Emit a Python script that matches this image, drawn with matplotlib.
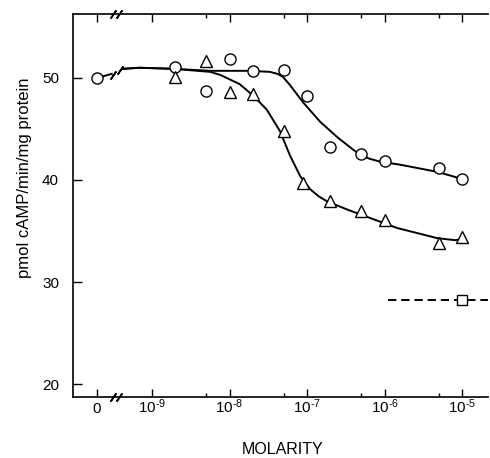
import numpy as np
import matplotlib
matplotlib.use("Agg")
from matplotlib import pyplot as plt
from matplotlib import font_manager

# data (x in molarity, plotted on log10 scale by hand)
ZERO_POS = -9.71          # where the "0 M" control sits, left of the axis break
circle_zero = 50.0
circle_conc = [2e-9, 5e-9, 1e-8, 2e-8, 5e-8, 1e-7, 2e-7, 5e-7, 1e-6, 5e-6, 1e-5]
circle_vals = [51.1, 48.7, 51.9, 50.7, 50.8, 48.2, 43.2, 42.5, 41.9, 41.2, 40.1]
triangle_conc = [2e-9, 5e-9, 1e-8, 2e-8, 5e-8, 9e-8, 2e-7, 5e-7, 1e-6, 5e-6, 1e-5]
triangle_vals = [50.1, 51.7, 48.6, 48.4, 44.8, 39.7, 37.9, 37.0, 36.1, 33.8, 34.4]
square_conc = [1e-5]
square_vals = [28.2]
dash_start = 1.1e-6

# hand drawn curves (log10 molarity, value)
circle_curve_x = [-9.37, -9.16, -8.73, -8.25, -7.74, -7.48, -7.38, -7.31, -7.22, -7.05,
                  -6.83, -6.61, -6.41, -6.32, -6.20, -6.06, -5.80, -5.32, -5.0]
circle_curve_y = [50.9, 51.0, 50.9, 50.7, 50.7, 50.6, 50.4, 50.1, 49.3, 47.6,
                  45.7, 44.2, 43.0, 42.5, 42.1, 41.8, 41.5, 40.8, 40.1]
triangle_curve_x = [-9.37, -9.16, -8.73, -8.25, -8.12, -7.87, -7.70, -7.52, -7.35,
                    -7.22, -7.09, -6.96, -6.85, -6.74, -6.48, -6.23, -5.84, -5.32,
                    -5.09, -5.0]
triangle_curve_y = [50.9, 51.0, 50.9, 50.6, 50.3, 49.4, 48.3, 46.9, 44.8,
                    42.4, 40.4, 39.1, 38.4, 37.9, 37.1, 36.4, 35.3, 34.3,
                    34.1, 34.2]
stub_x = [ZERO_POS, -9.52]
stub_y = [50.0, 50.4]

xticks_pos = [ZERO_POS, -9, -8, -7, -6, -5]
xtick_labels = ["0"] + [r"10$^{\text{-%d}}$" % n for n in (9, 8, 7, 6, 5)]
yticks = [20, 30, 40, 50]
XMIN, XMAX = -10.02, -4.665
YMIN, YMAX = 18.73, 56.27

names = {f.name for f in font_manager.fontManager.ttflist}
FONT = "Liberation Sans Narrow" if "Liberation Sans Narrow" in names else "Liberation Sans"
plt.rcParams["font.family"] = [FONT, "DejaVu Sans"]
plt.rcParams["mathtext.fontset"] = "custom"
plt.rcParams["mathtext.rm"] = FONT
plt.rcParams["mathtext.it"] = FONT
plt.rcParams["mathtext.default"] = "regular"
plt.rcParams["lines.scale_dashes"] = False

fig = plt.figure(figsize=(4.9, 4.58), dpi=100)
ax = fig.add_axes([73 / 490, 1 - 397 / 458, 415 / 490, 383 / 458])

lw = 1.4
ax.plot(circle_curve_x, circle_curve_y, color="black", lw=lw, zorder=2)
ax.plot(triangle_curve_x, triangle_curve_y, color="black", lw=lw, zorder=2)
ax.plot(stub_x, stub_y, color="black", lw=lw, zorder=2)
ax.plot([np.log10(dash_start), XMAX], [square_vals[0]] * 2, color="black",
        lw=lw, dashes=(6, 3.5), clip_on=False, zorder=2)

mk = dict(linestyle="none", markerfacecolor="white", markeredgecolor="black",
          markeredgewidth=1.0, zorder=3, clip_on=False)
ax.plot([ZERO_POS] + list(np.log10(circle_conc)), [circle_zero] + circle_vals,
        marker="o", markersize=8, **mk)
ax.plot(np.log10(triangle_conc), triangle_vals, marker="^", markersize=8, **mk)
ax.plot(np.log10(square_conc), square_vals, marker="s", markersize=7.5, **mk)

# axis break marks
brk = dict(marker=(2, 2, -35), markersize=7, markeredgewidth=1.2, color="black",
           linestyle="none", clip_on=False, zorder=4)
ax.plot([-9.50, -9.41], [stub_y[1] - 0.1, 50.75], **brk)
ax.plot([-9.51, -9.42], [YMIN, YMIN], **brk)
ax.plot([-9.51, -9.42], [YMAX, YMAX], **brk)

ax.set_xlim(XMIN, XMAX)
ax.set_ylim(YMIN, YMAX)
ax.spines["right"].set_visible(False)
for s in ("left", "top", "bottom"):
    ax.spines[s].set_linewidth(1.2)

ax.set_yticks(yticks)
ax.set_xticks(xticks_pos)
ax.set_xticklabels(xtick_labels)
minor = [np.log10(5) + d for d in (-9, -8, -7, -6)]
ax.set_xticks(minor, minor=True)
ax.tick_params(axis="y", direction="in", length=6.5, width=1.0, pad=10, labelsize=11)
ax.tick_params(axis="x", which="major", direction="in", length=6, width=1.0,
               top=True, pad=11.5, labelsize=11)
ax.tick_params(axis="x", which="minor", direction="in", length=3, width=1.0, top=True)
for lab in ax.get_xticklabels():
    lab.set_va("baseline")

ax.set_ylabel("pmol cAMP/min/mg protein", fontsize=12, va="center")
ax.yaxis.set_label_coords((25 - 73) / 415, (397 - 178) / 383)
ax.set_xlabel("MOLARITY", fontsize=11.5, va="center")
ax.xaxis.set_label_coords((283 - 73) / 415, (397 - 449) / 383)

fig.savefig("out.png", dpi=100)
